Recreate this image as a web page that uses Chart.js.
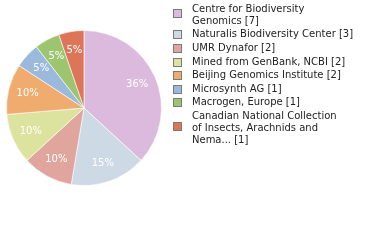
<!DOCTYPE html>
<html>
<head>
<meta charset="utf-8">
<script src="https://cdn.jsdelivr.net/npm/chart.js@4"></script>
<style>
  html, body { margin: 0; padding: 0; background: #fff; }
  #wrap { width: 380px; height: 240px; position: relative; }
</style>
</head>
<body>
<div id="wrap"><canvas id="pie" width="380" height="240"></canvas></div>
<script>
// institutions and their record counts
var labels = [
    "Centre for Biodiversity\nGenomics",
    "Naturalis Biodiversity Center",
    "UMR Dynafor",
    "Mined from GenBank, NCBI",
    "Beijing Genomics Institute",
    "Microsynth AG",
    "Macrogen, Europe",
    "Canadian National Collection\nof Insects, Arachnids and\nNema..."
];
var counts = [7, 3, 2, 2, 2, 1, 1, 1];
var colors = ["#dcbadd", "#cdd9e5", "#e0a59c", "#dce39e", "#f0ac6f", "#9bb9dd", "#9dc56f", "#dd7659"];

var total = counts.reduce(function (a, b) { return a + b; }, 0);

// white percent text inside each slice
var percentPlugin = {
    id: 'percentLabels',
    afterDatasetsDraw: function (chart) {
        var ctx = chart.ctx;
        var meta = chart.getDatasetMeta(0);
        ctx.save();
        ctx.font = "10px 'DejaVu Sans'";
        ctx.fillStyle = "#ffffff";
        ctx.textAlign = "center";
        ctx.textBaseline = "middle";
        meta.data.forEach(function (arc, i) {
            var p = arc.getProps(['x', 'y', 'startAngle', 'endAngle', 'outerRadius'], true);
            var mid = (p.startAngle + p.endAngle) / 2;
            var d = p.outerRadius * 0.75;
            var pct = Math.floor(counts[i] * 100 / total) + "%";
            ctx.fillText(pct, p.x + Math.cos(mid) * d, p.y + Math.sin(mid) * d);
        });
        ctx.restore();
    }
};

// legend on the right, with wrapped lines
var legendPlugin = {
    id: 'sideLegend',
    afterDraw: function (chart) {
        var ctx = chart.ctx;
        var lineH = 12, gap = 1.6;
        var y = 9.3;
        ctx.save();
        ctx.font = "10px 'DejaVu Sans'";
        ctx.textBaseline = "middle";
        ctx.textAlign = "left";
        labels.forEach(function (lbl, i) {
            var lines = (lbl + " [" + counts[i] + "]").split("\n");
            var first = y;
            lines.forEach(function (ln) {
                ctx.fillStyle = "#222";
                ctx.fillText(ln, 192, y);
                y += lineH;
            });
            var last = y - lineH;
            var by = lines.length > 1 ? (first + last) / 2 - 2 : first;
            ctx.fillStyle = colors[i];
            ctx.fillRect(174, Math.round(by - 3.5), 7, 7);
            ctx.strokeStyle = "#7a7a7a";
            ctx.lineWidth = 1;
            ctx.strokeRect(173.5, Math.round(by - 3.5) - 0.5, 8, 8);
            y += gap;
        });
        ctx.restore();
    }
};

new Chart(document.getElementById('pie'), {
    type: 'pie',
    data: {
        labels: labels,
        datasets: [{
            data: counts,
            backgroundColor: colors,
            borderColor: "rgba(255,255,255,0.6)",
            borderWidth: 1
        }]
    },
    options: {
        responsive: false,
        animation: false,
        layout: { padding: { left: 6, top: 30, right: 218, bottom: 54 } },
        plugins: {
            legend: { display: false },
            tooltip: { enabled: false }
        }
    },
    plugins: [percentPlugin, legendPlugin]
});
</script>
</body>
</html>
